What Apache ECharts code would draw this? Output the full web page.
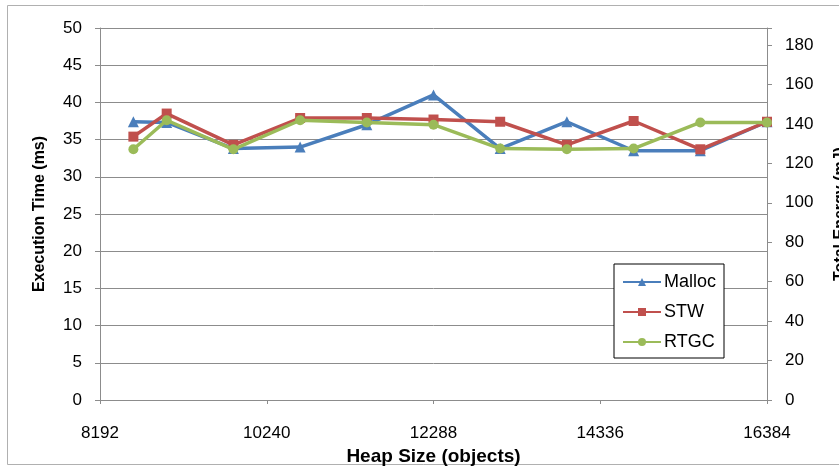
<!DOCTYPE html>
<html><head><meta charset="utf-8">
<script src="https://cdn.jsdelivr.net/npm/echarts@6/dist/echarts.min.js"></script>
<style>html,body{margin:0;padding:0;background:#fff}#c{width:839px;height:467px}</style>
</head><body><div id="c"></div>
<script>
const heapSizes = [8602, 9011, 9830, 10650, 11469, 12288, 13107, 13926, 14746, 15565, 16384];
const mallocTime = [37.4, 37.3, 33.8, 34.0, 37.0, 41.0, 33.8, 37.4, 33.5, 33.5, 37.4];
const stwTime    = [35.4, 38.5, 34.3, 37.9, 37.9, 37.7, 37.4, 34.3, 37.5, 33.7, 37.4];
const rtgcTime   = [33.7, 37.6, 33.7, 37.6, 37.3, 37.0, 33.8, 33.7, 33.8, 37.3, 37.3];
const seriesNames = ['Malloc', 'STW', 'RTGC'];
const xTitle = 'Heap Size (objects)';
const yLeftTitle = 'Execution Time (ms)';
const yRightTitle = 'Total Energy (mJ)';

const FONT = '"Liberation Sans", Arial, sans-serif';
const zip = (ys) => heapSizes.map((x, i) => [x, ys[i]]);
const colors = ['#4A7EBB', '#C0504D', '#9BBB59'];
const symbols = ['triangle', 'rect', 'circle'];
const datasets = [mallocTime, stwTime, rtgcTime];

const chart = echarts.init(document.getElementById('c'), null, {renderer: 'canvas'});
chart.setOption({
  animation: false,
  backgroundColor: '#fff',
  textStyle: {fontFamily: FONT},
  graphic: [{
    type: 'rect', shape: {x: 7.5, y: 5.5, width: 900, height: 459},
    style: {fill: 'none', stroke: '#b0b0b0', lineWidth: 1}, silent: true, z: -1
  }],
  grid: {left: 100, right: 72, top: 28, bottom: 67, containLabel: false, outerBoundsMode: 'none'},
  legend: {
    orient: 'vertical', left: 614, top: 264,
    padding: [9, 8, 7, 8],
    itemWidth: 38, itemHeight: 10, itemGap: 12,
    borderColor: '#000', borderWidth: 1,
    backgroundColor: '#fff',
    textStyle: {fontFamily: FONT, fontSize: 18, color: '#000', padding: [0, 0, 0, -2]},
    data: seriesNames
  },
  xAxis: {
    type: 'value', min: 8192, max: 16384, interval: 2048,
    name: xTitle, nameLocation: 'middle', nameGap: 46,
    nameTextStyle: {fontFamily: FONT, fontSize: 19, fontWeight: 'bold', color: '#000'},
    axisLine: {show: true, lineStyle: {color: '#8c8c8c', width: 1}},
    axisTick: {show: true, length: 4, lineStyle: {color: '#8c8c8c'}},
    axisLabel: {fontFamily: FONT, fontSize: 17, color: '#000', margin: 25, formatter: (v) => String(v)},
    splitLine: {show: false}
  },
  yAxis: [{
    type: 'value', min: 0, max: 50, interval: 5, position: 'left',
    name: yLeftTitle, nameLocation: 'middle', nameGap: 52, nameRotate: 90,
    nameTextStyle: {fontFamily: FONT, fontSize: 16, fontWeight: 'bold', color: '#000'},
    axisLine: {show: true, lineStyle: {color: '#8c8c8c', width: 1}},
    axisTick: {show: true, length: 5, lineStyle: {color: '#8c8c8c'}},
    axisLabel: {fontFamily: FONT, fontSize: 17, color: '#000', margin: 18},
    splitLine: {show: true, lineStyle: {color: '#8c8c8c', width: 1}}
  }, {
    type: 'value', min: 0, max: 188.6, interval: 20, position: 'right',
    name: yRightTitle, nameLocation: 'middle', nameGap: 66, nameRotate: 90,
    nameTextStyle: {fontFamily: FONT, fontSize: 16, fontWeight: 'bold', color: '#000'},
    axisLine: {show: true, lineStyle: {color: '#8c8c8c', width: 1}},
    axisTick: {show: true, length: 5, lineStyle: {color: '#8c8c8c'}},
    axisLabel: {fontFamily: FONT, fontSize: 17, color: '#000', margin: 18,
      formatter: (v) => (Math.abs(v % 20) < 1e-6 ? String(v) : '')},
    splitLine: {show: false}
  }],
  series: seriesNames.map((name, i) => ({
    name, type: 'line', xAxisIndex: 0, yAxisIndex: 0,
    data: zip(datasets[i]),
    symbol: symbols[i], symbolSize: i === 0 ? 11 : 10,
    showAllSymbol: true,
    lineStyle: {color: colors[i], width: 3.5},
    itemStyle: {color: colors[i]},
    z: 2 + i
  }))
});
</script></body></html>
